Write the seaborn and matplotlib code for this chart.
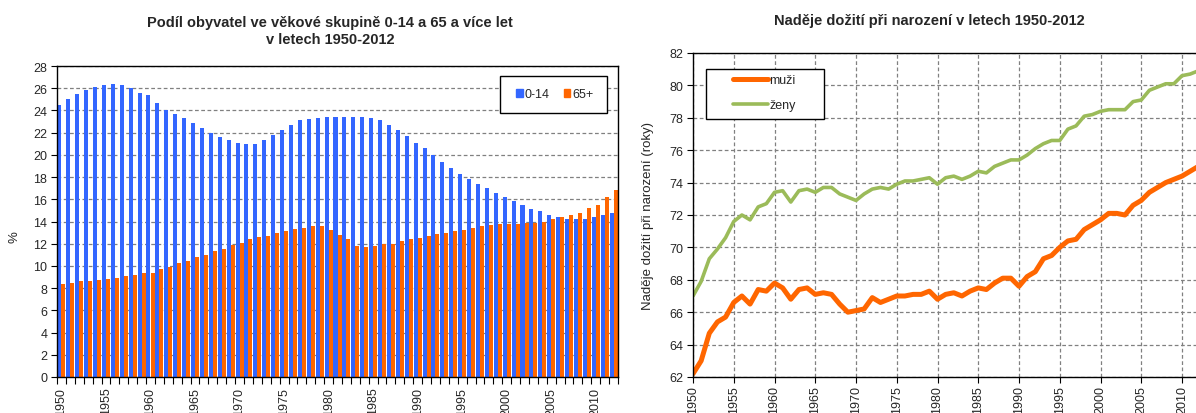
import numpy as np
import pandas as pd
import matplotlib
matplotlib.use("Agg")
import matplotlib.pyplot as plt
import seaborn as sns
from matplotlib.patches import Rectangle, Patch
from matplotlib.lines import Line2D
from matplotlib.ticker import FixedLocator, MultipleLocator

# ---------------- data ----------------
years = list(range(1950, 2013))

share_0_14 = [24.45, 25.0, 25.5, 25.8, 26.15, 26.3, 26.4, 26.3, 26.0, 25.6,
              25.4, 24.7, 24.05, 23.65, 23.3, 22.85, 22.4, 22.0, 21.6, 21.35,
              21.1, 21.0, 21.0, 21.35, 21.8, 22.25, 22.7, 23.1, 23.2, 23.3,
              23.4, 23.4, 23.4, 23.4, 23.4, 23.3, 23.1, 22.7, 22.25, 21.7,
              21.1, 20.6, 20.0, 19.4, 18.8, 18.3, 17.8, 17.35, 17.0, 16.55,
              16.2, 15.85, 15.5, 15.15, 14.95, 14.6, 14.4, 14.2, 14.2, 14.2,
              14.4, 14.6, 14.8]

share_65_plus = [8.35, 8.5, 8.6, 8.6, 8.7, 8.8, 8.9, 9.05, 9.2, 9.4,
                 9.4, 9.75, 9.9, 10.25, 10.4, 10.8, 11.0, 11.35, 11.55, 11.9,
                 12.1, 12.4, 12.6, 12.7, 12.95, 13.1, 13.35, 13.45, 13.55, 13.55,
                 13.2, 12.8, 12.4, 11.8, 11.7, 11.8, 11.95, 12.0, 12.25, 12.4,
                 12.5, 12.7, 12.85, 12.95, 13.1, 13.2, 13.45, 13.55, 13.65, 13.8,
                 13.8, 13.8, 13.9, 13.9, 14.0, 14.2, 14.4, 14.6, 14.8, 15.2,
                 15.5, 16.2, 16.8]

le_men = [62.2, 63.0, 64.7, 65.4, 65.7, 66.6, 67.0, 66.5, 67.4, 67.3,
          67.8, 67.5, 66.8, 67.4, 67.5, 67.1, 67.2, 67.1, 66.5, 66.0,
          66.1, 66.2, 66.9, 66.6, 66.8, 67.0, 67.0, 67.1, 67.1, 67.3,
          66.8, 67.1, 67.2, 67.0, 67.3, 67.5, 67.4, 67.8, 68.1, 68.1,
          67.6, 68.2, 68.5, 69.3, 69.5, 70.0, 70.4, 70.5, 71.1, 71.4,
          71.7, 72.1, 72.1, 72.0, 72.6, 72.9, 73.4, 73.7, 74.0, 74.2,
          74.4, 74.7, 75.0]

le_women = [67.0, 67.9, 69.3, 69.9, 70.6, 71.6, 72.0, 71.7, 72.5, 72.7,
            73.4, 73.5, 72.8, 73.5, 73.6, 73.4, 73.7, 73.7, 73.3, 73.1,
            72.9, 73.3, 73.6, 73.7, 73.6, 73.9, 74.1, 74.1, 74.2, 74.3,
            73.9, 74.3, 74.4, 74.2, 74.4, 74.7, 74.6, 75.0, 75.2, 75.4,
            75.4, 75.7, 76.1, 76.4, 76.6, 76.6, 77.3, 77.5, 78.1, 78.2,
            78.4, 78.5, 78.5, 78.5, 79.0, 79.1, 79.7, 79.9, 80.1, 80.1,
            80.6, 80.7, 80.9]

group_names = ["0-14", "65+"]
sex_names = ["muži", "ženy"]

title_left_1 = "Podíl obyvatel ve věkové skupině 0-14 a 65 a více let"
title_left_2 = "v letech 1950-2012"
title_right = "Naděje dožití při narození v letech 1950-2012"
ylabel_left = "%"
ylabel_right = "Naděje dožití při narození (roky)"

BLUE = "#3366FF"
ORANGE = "#FF6600"
GREEN = "#9BBB59"
GRID = "#808080"

# ---------------- style ----------------
sns.set_style("white")
plt.rcParams["font.family"] = ["Liberation Sans", "DejaVu Sans"]
plt.rcParams["axes.edgecolor"] = "black"
plt.rcParams["axes.linewidth"] = 1.0

W, H = 1196, 414
fig = plt.figure(figsize=(W / 100, H / 100), dpi=100)


def fx(px):
    return px / W


def fy(py):
    return 1 - py / H


axL = fig.add_axes([fx(57), fy(378), fx(618) - fx(57), fy(67) - fy(378)])
axR = fig.add_axes([fx(693), fy(378), 1 - fx(693), fy(54) - fy(378)])

# ---------------- left: bars ----------------
df_bars = pd.DataFrame({
    "rok": [str(y) for y in years] * 2,
    "skupina": [group_names[0]] * len(years) + [group_names[1]] * len(years),
    "podil": share_0_14 + share_65_plus,
})
sns.barplot(data=df_bars, x="rok", y="podil", hue="skupina",
            order=[str(y) for y in years], hue_order=group_names,
            palette={group_names[0]: BLUE, group_names[1]: ORANGE},
            saturation=1, width=0.9, linewidth=0, legend=False, ax=axL)

axL.set_xlim(-0.5, len(years) - 0.5)
axL.set_ylim(0, 28)
axL.yaxis.set_major_locator(MultipleLocator(2))
axL.set_xticks(list(range(0, len(years), 5)))
axL.set_xticklabels([str(y) for y in years[::5]])
axL.xaxis.set_minor_locator(FixedLocator(np.arange(-0.5, len(years), 1)))
axL.set_xlabel("")
axL.set_ylabel("")
axL.yaxis.grid(True, linestyle=(0, (3, 2)), color=GRID, linewidth=0.9)
axL.xaxis.grid(False)
axL.set_axisbelow(True)
axL.tick_params(axis="x", which="major", length=0, labelsize=9,
                labelrotation=90, pad=7, bottom=True)
axL.tick_params(axis="x", which="minor", length=5, width=0.8,
                color="black", direction="out", bottom=True)
axL.tick_params(axis="y", which="major", length=4, width=0.8,
                color="black", direction="out", labelsize=9, pad=3, left=True)
for s in axL.spines.values():
    s.set_visible(True)
    s.set_color("black")
    s.set_linewidth(1.0)

# ---------------- right: lines ----------------
df_le = pd.DataFrame({
    "rok": years * 2,
    "pohlavi": [sex_names[0]] * len(years) + [sex_names[1]] * len(years),
    "nadeje": le_men + le_women,
})
sns.lineplot(data=df_le, x="rok", y="nadeje", hue="pohlavi",
             hue_order=sex_names,
             palette={sex_names[0]: ORANGE, sex_names[1]: GREEN},
             legend=False, ax=axR)
for line, lw in zip(axR.lines, [3.6, 2.6]):
    line.set_linewidth(lw)
    line.set_solid_joinstyle("round")
    line.set_solid_capstyle("round")

axR.set_xlim(1950, 1950 + (W - 693) / 8.15)
axR.set_ylim(62, 82)
axR.yaxis.set_major_locator(MultipleLocator(2))
axR.set_xticks(list(range(1950, 2015, 5)))
axR.set_xticklabels([str(y) for y in range(1950, 2015, 5)])
axR.set_xlabel("")
axR.set_ylabel("")
axR.grid(True, linestyle=(0, (3, 2)), color=GRID, linewidth=0.9)
axR.set_axisbelow(True)
axR.tick_params(axis="x", length=4, width=0.8, color="black", direction="out",
                labelsize=9, labelrotation=90, pad=2, bottom=True)
axR.tick_params(axis="y", length=4, width=0.8, color="black", direction="out",
                labelsize=9, pad=3, left=True)
for name, s in axR.spines.items():
    s.set_color("black")
    s.set_linewidth(1.0)
    s.set_visible(name != "right")

# ---------------- titles / labels ----------------
fig.text(fx(330), fy(23), title_left_1, ha="center", va="center",
         fontsize=10.5, fontweight="bold")
fig.text(fx(330), fy(40), title_left_2, ha="center", va="center",
         fontsize=10.5, fontweight="bold")
fig.text(fx(929), fy(21), title_right, ha="center", va="center",
         fontsize=10.5, fontweight="bold")
fig.text(fx(14), fy(237), ylabel_left, ha="center", va="center",
         rotation=90, fontsize=9.5)
fig.text(fx(648), fy(216), ylabel_right, ha="center", va="center",
         rotation=90, fontsize=9.5)

# ---------------- legends ----------------
fig.add_artist(Rectangle((fx(500), fy(114)), fx(607) - fx(500), fy(77) - fy(114),
                         transform=fig.transFigure, facecolor="white",
                         edgecolor="black", linewidth=1.0, zorder=3))
legL = fig.legend(handles=[Patch(color=BLUE), Patch(color=ORANGE)],
                  labels=group_names, ncol=2, loc="center left",
                  bbox_to_anchor=(fx(516), fy(95.5)), frameon=False,
                  borderpad=0, borderaxespad=0, handlelength=0.55,
                  handleheight=0.55, handletextpad=0.15, columnspacing=1.1,
                  fontsize=9)
legL.set_zorder(6)

fig.add_artist(Rectangle((fx(706), fy(120)), fx(824) - fx(706), fy(70) - fy(120),
                         transform=fig.transFigure, facecolor="white",
                         edgecolor="black", linewidth=1.0, zorder=3))
legR = fig.legend(handles=[Line2D([], [], color=ORANGE, lw=3.6),
                           Line2D([], [], color=GREEN, lw=2.6)],
                  labels=sex_names, loc="upper left",
                  bbox_to_anchor=(fx(733), fy(75)), frameon=False,
                  borderpad=0, borderaxespad=0, handlelength=2.8,
                  handletextpad=0.1, labelspacing=1.05, fontsize=9)
legR.set_zorder(6)

fig.savefig("out.png", dpi=100)
